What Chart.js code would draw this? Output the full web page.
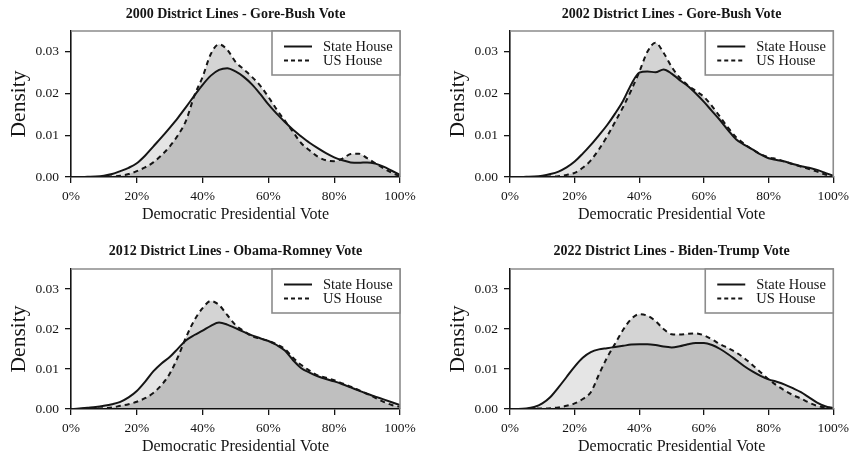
<!DOCTYPE html>
<html>
<head>
<meta charset="utf-8">
<script src="https://cdn.jsdelivr.net/npm/chart.js@4/dist/chart.umd.min.js"></script>
<style>
  html, body { margin: 0; padding: 0; background: #ffffff; }
  #wrap { position: relative; width: 854px; height: 464px; }
  canvas { position: absolute; }
</style>
</head>
<body>
<div id="wrap">
  <canvas id="p2000" width="427" height="232" style="left:0;top:0"></canvas>
  <canvas id="p2002" width="427" height="232" style="left:427px;top:0"></canvas>
  <canvas id="p2012" width="427" height="232" style="left:0;top:232px"></canvas>
  <canvas id="p2022" width="427" height="232" style="left:427px;top:232px"></canvas>
</div>
<script>
// Democratic presidential vote share (%) at which each density is evaluated
const votePct = [0, 2.5, 5, 7.5, 10, 12.5, 15, 17.5, 20, 22.5, 25, 27.5, 30, 32.5, 35, 37.5, 40,
  42.5, 45, 47.5, 50, 52.5, 55, 57.5, 60, 62.5, 65, 67.5, 70, 72.5, 75, 77.5, 80, 82.5, 85, 87.5,
  90, 92.5, 95, 97.5, 100];

// Tick labels
const voteTicks = [0, 20, 40, 60, 80, 100];
const densityTicks = [0, 0.01, 0.02, 0.03];

const seriesNames = ['State House', 'US House'];
const panelTitles = [
  '2000 District Lines - Gore-Bush Vote',
  '2002 District Lines - Gore-Bush Vote',
  '2012 District Lines - Obama-Romney Vote',
  '2022 District Lines - Biden-Trump Vote'
];

// Kernel density of district vote share
const stateHouse2000 = [0, 0, 0.00005, 0.0001, 0.0003, 0.0007, 0.0014, 0.0022, 0.0033, 0.0051, 0.0073,
  0.0095, 0.0118, 0.0142, 0.0168, 0.0195, 0.0221, 0.0243, 0.0257, 0.0261, 0.0253, 0.0240, 0.0222,
  0.0199, 0.0174, 0.0152, 0.0132, 0.0113, 0.0097, 0.0082, 0.0069, 0.0057, 0.0047, 0.0040, 0.0035,
  0.0034, 0.0035, 0.0032, 0.0025, 0.0015, 0.0005];
const usHouse2000 = [0, 0, 0, 0, 0.00005, 0.0001, 0.0003, 0.0007, 0.0014, 0.0023, 0.0035,
  0.0052, 0.0073, 0.0100, 0.0136, 0.0195, 0.0240, 0.0295, 0.0318, 0.0305, 0.0276, 0.0258, 0.0240,
  0.0219, 0.0192, 0.0162, 0.0135, 0.0108, 0.0081, 0.0064, 0.0049, 0.0040, 0.0038, 0.0044, 0.0055,
  0.0056, 0.0045, 0.0033, 0.0021, 0.0010, 0.0002];

const stateHouse2002 = [0, 0, 0.00005, 0.0001, 0.0003, 0.0007, 0.0013, 0.0023, 0.0037, 0.0056, 0.0077,
  0.0100, 0.0124, 0.0152, 0.0183, 0.0222, 0.0250, 0.0253, 0.0251, 0.0258, 0.0248, 0.0232, 0.0218,
  0.0200, 0.0180, 0.0158, 0.0136, 0.0112, 0.0090, 0.0077, 0.0066, 0.0054, 0.0045, 0.0041, 0.0037,
  0.0031, 0.0026, 0.0022, 0.0017, 0.0010, 0.0003];
const usHouse2002 = [0, 0, 0, 0, 0.00005, 0.0001, 0.0002, 0.0005, 0.0010, 0.0022, 0.0040,
  0.0066, 0.0097, 0.0132, 0.0168, 0.0208, 0.0252, 0.0300, 0.0322, 0.0298, 0.0264, 0.0238, 0.0220,
  0.0206, 0.0192, 0.0170, 0.0144, 0.0118, 0.0095, 0.0079, 0.0066, 0.0055, 0.0047, 0.0043, 0.0037,
  0.0031, 0.0025, 0.0019, 0.0013, 0.0006, 0.0001];

const stateHouse2012 = [0, 0.0001, 0.0003, 0.0005, 0.0008, 0.0012, 0.0018, 0.0029, 0.0045, 0.0068, 0.0094,
  0.0114, 0.0130, 0.0151, 0.0172, 0.0185, 0.0196, 0.0208, 0.0216, 0.0211, 0.0202, 0.0193, 0.0184,
  0.0177, 0.0170, 0.0160, 0.0146, 0.0122, 0.0102, 0.0091, 0.0082, 0.0075, 0.0069, 0.0062, 0.0054,
  0.0046, 0.0038, 0.0031, 0.0024, 0.0017, 0.0010];
const usHouse2012 = [0, 0, 0.0001, 0.0001, 0.0002, 0.0004, 0.0008, 0.0012, 0.0018, 0.0027, 0.0040,
  0.0060, 0.0088, 0.0130, 0.0180, 0.0222, 0.0252, 0.0270, 0.0260, 0.0235, 0.0210, 0.0195, 0.0182,
  0.0176, 0.0170, 0.0162, 0.0150, 0.0128, 0.0110, 0.0096, 0.0084, 0.0078, 0.0072, 0.0064, 0.0056,
  0.0047, 0.0038, 0.0028, 0.0018, 0.0010, 0.0005];

const stateHouse2022 = [0, 0, 0.0001, 0.0005, 0.0014, 0.0030, 0.0054, 0.0080, 0.0106, 0.0128, 0.0142,
  0.0149, 0.0152, 0.0155, 0.0158, 0.0161, 0.0162, 0.0162, 0.0160, 0.0156, 0.0154, 0.0157, 0.0162,
  0.0165, 0.0165, 0.0160, 0.0150, 0.0137, 0.0122, 0.0107, 0.0094, 0.0083, 0.0074, 0.0068, 0.0061,
  0.0052, 0.0042, 0.0029, 0.0016, 0.0007, 0.0002];
const usHouse2022 = [0, 0, 0, 0.0001, 0.0001, 0.0002, 0.0004, 0.0008, 0.0014, 0.0025, 0.0042,
  0.0086, 0.0128, 0.0163, 0.0198, 0.0225, 0.0237, 0.0233, 0.0220, 0.0200, 0.0187, 0.0186, 0.0188,
  0.0189, 0.0184, 0.0174, 0.0162, 0.0152, 0.0141, 0.0127, 0.0110, 0.0092, 0.0074, 0.0059, 0.0046,
  0.0035, 0.0026, 0.0016, 0.0008, 0.0004, 0.0002];

const SERIF = '"Liberation Serif", "DejaVu Serif", serif';
const INK = '#151515';
const FRAME = '#8c8c8c';

// Panel title, top/right frame and legend box
const panelDecor = {
  id: 'panelDecor',
  afterDatasetsDraw(chart, args, opts) {
    const { ctx, chartArea: a } = chart;
    ctx.save();
    // frame on the open sides
    ctx.strokeStyle = FRAME;
    ctx.lineWidth = 1.6;
    ctx.beginPath();
    ctx.moveTo(a.left, a.top);
    ctx.lineTo(a.right, a.top);
    ctx.lineTo(a.right, a.bottom);
    ctx.stroke();

    // legend
    const bw = 128, bh = 44;
    const bx = a.right - bw, by = a.top;
    ctx.fillStyle = '#ffffff';
    ctx.fillRect(bx, by, bw, bh);
    ctx.strokeRect(bx, by, bw, bh);
    ctx.strokeStyle = INK;
    ctx.lineWidth = 2;
    const rows = [by + 15.5, by + 29.5];
    ctx.setLineDash([]);
    ctx.beginPath(); ctx.moveTo(bx + 12, rows[0]); ctx.lineTo(bx + 40, rows[0]); ctx.stroke();
    ctx.setLineDash([4, 3]);
    ctx.beginPath(); ctx.moveTo(bx + 12, rows[1]); ctx.lineTo(bx + 40, rows[1]); ctx.stroke();
    ctx.setLineDash([]);
    ctx.fillStyle = INK;
    ctx.font = '14.5px ' + SERIF;
    ctx.textAlign = 'left';
    ctx.textBaseline = 'middle';
    ctx.fillText(seriesNames[0], bx + 51, rows[0] + 1);
    ctx.fillText(seriesNames[1], bx + 51, rows[1] + 1);

    // title
    ctx.font = 'bold 14px ' + SERIF;
    ctx.textAlign = 'center';
    ctx.fillText(opts.title, (a.left + a.right) / 2, a.top - opts.titleGap);
    ctx.restore();
  }
};

function points(ys) {
  return votePct.map((x, i) => ({ x: x, y: ys[i] }));
}

function makePanel(id, title, state, us, box) {
  new Chart(document.getElementById(id), {
    type: 'line',
    data: {
      datasets: [
        {
          label: seriesNames[0],
          data: points(state),
          borderColor: INK,
          borderWidth: 2,
          backgroundColor: 'rgba(0,0,0,0.10)',
          fill: 'origin',
          pointRadius: 0,
          cubicInterpolationMode: 'monotone'
        },
        {
          label: seriesNames[1],
          data: points(us),
          borderColor: INK,
          borderWidth: 2,
          borderDash: [5, 4],
          backgroundColor: 'rgba(0,0,0,0.17)',
          fill: 'origin',
          pointRadius: 0,
          cubicInterpolationMode: 'monotone'
        }
      ]
    },
    options: {
      responsive: false,
      animation: false,
      devicePixelRatio: 1,
      layout: { padding: { top: box.top, right: box.right, left: 0, bottom: 0 } },
      plugins: {
        legend: { display: false },
        title: { display: false },
        tooltip: { enabled: false },
        filler: { drawTime: 'beforeDatasetsDraw' },
        panelDecor: { title: title, titleGap: box.titleGap }
      },
      scales: {
        x: {
          type: 'linear',
          min: 0,
          max: 100,
          afterBuildTicks: s => { s.ticks = voteTicks.map(v => ({ value: v })); },
          afterFit: s => { s.height = 55; },
          ticks: {
            callback: v => v + '%',
            color: INK,
            font: { family: SERIF, size: 13.5 },
            padding: 5,
            maxRotation: 0
          },
          grid: { drawOnChartArea: false, drawTicks: true, tickLength: 6, color: INK, lineWidth: 1.3 },
          border: { display: true, color: INK, width: 1.6 },
          title: {
            display: true,
            text: 'Democratic Presidential Vote',
            color: INK,
            font: { family: SERIF, size: 16 },
            padding: { top: 0, bottom: 8 }
          }
        },
        y: {
          type: 'linear',
          min: 0,
          max: 0.035,
          afterBuildTicks: s => { s.ticks = densityTicks.map(v => ({ value: v })); },
          afterFit: s => { s.width = box.left; },
          ticks: {
            callback: v => v.toFixed(2),
            color: INK,
            font: { family: SERIF, size: 13.5 },
            padding: 6
          },
          grid: { drawOnChartArea: false, drawTicks: true, tickLength: 6, color: INK, lineWidth: 1.3 },
          border: { display: true, color: INK, width: 1.6 },
          title: {
            display: true,
            text: 'Density',
            color: INK,
            font: { family: SERIF, size: 21.5 },
            padding: { top: box.left - 65, bottom: 0 }
          }
        }
      }
    },
    plugins: [panelDecor]
  });
}

makePanel('p2000', panelTitles[0], stateHouse2000, usHouse2000, { top: 31, right: 27, left: 71, titleGap: 16.5 });
makePanel('p2002', panelTitles[1], stateHouse2002, usHouse2002, { top: 31, right: 16, left: 83, titleGap: 16.5 });
makePanel('p2012', panelTitles[2], stateHouse2012, usHouse2012, { top: 37, right: 27, left: 71, titleGap: 17.5 });
makePanel('p2022', panelTitles[3], stateHouse2022, usHouse2022, { top: 37, right: 16, left: 83, titleGap: 17.5 });
</script>
</body>
</html>
